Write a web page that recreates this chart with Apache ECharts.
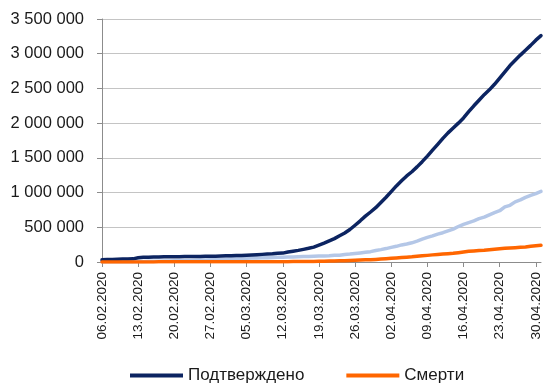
<!DOCTYPE html>
<html>
<head>
<meta charset="utf-8">
<script src="https://cdn.jsdelivr.net/npm/echarts@6/dist/echarts.min.js"></script>
<style>
  html, body { margin: 0; padding: 0; background: #fff; }
  #chart { width: 546px; height: 383px; }
</style>
</head>
<body>
<div id="chart"></div>
<script>
// Daily dates, 06.02.2020 – 01.05.2020
const dates = [
  '06.02.2020','07.02.2020','08.02.2020','09.02.2020','10.02.2020','11.02.2020','12.02.2020',
  '13.02.2020','14.02.2020','15.02.2020','16.02.2020','17.02.2020','18.02.2020','19.02.2020',
  '20.02.2020','21.02.2020','22.02.2020','23.02.2020','24.02.2020','25.02.2020','26.02.2020',
  '27.02.2020','28.02.2020','29.02.2020','01.03.2020','02.03.2020','03.03.2020','04.03.2020',
  '05.03.2020','06.03.2020','07.03.2020','08.03.2020','09.03.2020','10.03.2020','11.03.2020',
  '12.03.2020','13.03.2020','14.03.2020','15.03.2020','16.03.2020','17.03.2020','18.03.2020',
  '19.03.2020','20.03.2020','21.03.2020','22.03.2020','23.03.2020','24.03.2020','25.03.2020',
  '26.03.2020','27.03.2020','28.03.2020','29.03.2020','30.03.2020','31.03.2020','01.04.2020',
  '02.04.2020','03.04.2020','04.04.2020','05.04.2020','06.04.2020','07.04.2020','08.04.2020',
  '09.04.2020','10.04.2020','11.04.2020','12.04.2020','13.04.2020','14.04.2020','15.04.2020',
  '16.04.2020','17.04.2020','18.04.2020','19.04.2020','20.04.2020','21.04.2020','22.04.2020',
  '23.04.2020','24.04.2020','25.04.2020','26.04.2020','27.04.2020','28.04.2020','29.04.2020',
  '30.04.2020','01.05.2020'
];

// Cumulative confirmed cases
const confirmed = [
  30800, 34400, 37100, 40200, 42800, 44800, 45200,
  60400, 66900, 69000, 71200, 73300, 75100, 75600,
  76200, 76800, 78600, 79000, 79600, 80400, 81400,
  82800, 84100, 86000, 88400, 90300, 92800, 95100,
  97900, 101800, 105800, 109800, 113600, 118600, 125900,
  128400, 145200, 156100, 167500, 181600, 197100, 214800,
  242600, 272200, 304500, 337000, 378200, 418000, 467700,
  529600, 593300, 660700, 720100, 782400, 857500, 932600,
  1013500, 1095900, 1170000, 1240000, 1300000, 1370000, 1445000,
  1525000, 1610000, 1695000, 1780000, 1860000, 1930000, 2000000,
  2075000, 2165000, 2250000, 2330000, 2410000, 2480000, 2560000,
  2650000, 2740000, 2830000, 2905000, 2980000, 3050000, 3120000,
  3195000, 3260000
];

// Cumulative recoveries
const recovered = [
  1500, 2000, 2600, 3200, 3900, 4700, 5200,
  6300, 8100, 9400, 10900, 12600, 14400, 16100,
  18200, 18900, 22900, 23400, 25200, 27900, 30400,
  33300, 36700, 39800, 42700, 45600, 48200, 51200,
  53800, 55900, 58400, 60700, 62500, 64400, 67000,
  68300, 70300, 72600, 76000, 78100, 80800, 83200,
  84900, 87300, 91500, 97700, 98400, 108000, 113800,
  122200, 130900, 139400, 149100, 164600, 178000, 193200,
  210300, 225800, 246200, 260000, 276500, 300100, 328700,
  354000, 376100, 402100, 421700, 448700, 474300, 511000,
  542100, 568300, 592300, 623900, 645700, 679800, 710300,
  738500, 793600, 816700, 865700, 894000, 930000, 960000,
  985000, 1017000
];

// Cumulative deaths
const deaths = [
  640, 720, 800, 910, 1010, 1110, 1120,
  1370, 1520, 1670, 1770, 1870, 2010, 2120,
  2250, 2250, 2460, 2470, 2630, 2710, 2770,
  2810, 2870, 2940, 3000, 3090, 3160, 3250,
  3350, 3460, 3560, 3800, 3990, 4260, 4620,
  4720, 5400, 5820, 6440, 7130, 7910, 8730,
  9870, 11300, 12970, 14620, 16500, 18620, 21180,
  23970, 27200, 30650, 33930, 37580, 42110, 46810,
  52980, 58790, 64610, 69370, 74570, 81870, 88340,
  95460, 102530, 108500, 114090, 119480, 125980, 134180,
  143800, 153820, 159510, 165040, 169990, 177460, 184250,
  190860, 197150, 202850, 206540, 211170, 217150, 227640,
  233390, 240000
];

const yTicks = { min: 0, max: 3500000, interval: 500000 };

const FONT = 'Liberation Sans';
const chart = echarts.init(document.getElementById('chart'), null, { renderer: 'canvas' });

function spaced(v) {
  return String(v).replace(/\B(?=(\d{3})+(?!\d))/g, ' ');
}

chart.setOption({
  animation: false,
  backgroundColor: '#ffffff',
  textStyle: { fontFamily: FONT },
  grid: { left: 102, right: 5, top: 19, bottom: 121, containLabel: false },
  legend: {
    data: ['Подтверждено', 'Смерти'],
    left: 130,
    top: 367,
    padding: 0,
    itemWidth: 53,
    itemHeight: 4,
    itemGap: 42,
    icon: 'rect',
    textStyle: { fontFamily: FONT, fontSize: 17, color: '#1a1a1a' }
  },
  xAxis: {
    type: 'category',
    data: dates,
    boundaryGap: false,
    axisLine: { lineStyle: { color: '#8c8c8c', width: 1 } },
    axisTick: { show: true, interval: 6, length: 5, lineStyle: { color: '#8c8c8c' } },
    axisLabel: {
      interval: 6,
      rotate: 90,
      margin: 10,
      fontFamily: FONT,
      fontSize: 13.5,
      color: '#1a1a1a'
    },
    splitLine: { show: false }
  },
  yAxis: {
    type: 'value',
    min: yTicks.min,
    max: yTicks.max,
    interval: yTicks.interval,
    axisLine: { show: true, lineStyle: { color: '#8c8c8c', width: 1 } },
    axisTick: { show: true, length: 5, lineStyle: { color: '#8c8c8c' } },
    axisLabel: {
      margin: 18,
      fontFamily: FONT,
      fontSize: 16.5,
      color: '#1a1a1a',
      formatter: spaced
    },
    splitLine: { show: true, lineStyle: { color: '#c4c4c4', width: 1 } }
  },
  series: [
    {
      name: 'Подтверждено',
      type: 'line',
      data: confirmed,
      showSymbol: false,
      symbol: 'none',
      lineStyle: { color: '#0c2461', width: 3.5, cap: 'round', join: 'round' },
      itemStyle: { color: '#0c2461' },
      z: 3
    },
    {
      name: 'Выздоровело',
      type: 'line',
      data: recovered,
      showSymbol: false,
      symbol: 'none',
      lineStyle: { color: '#b4c7e7', width: 3.5, cap: 'round', join: 'round' },
      itemStyle: { color: '#b4c7e7' },
      z: 2
    },
    {
      name: 'Смерти',
      type: 'line',
      data: deaths,
      showSymbol: false,
      symbol: 'none',
      lineStyle: { color: '#ff6600', width: 3.5, cap: 'round', join: 'round' },
      itemStyle: { color: '#ff6600' },
      z: 4
    }
  ]
});
</script>
</body>
</html>
